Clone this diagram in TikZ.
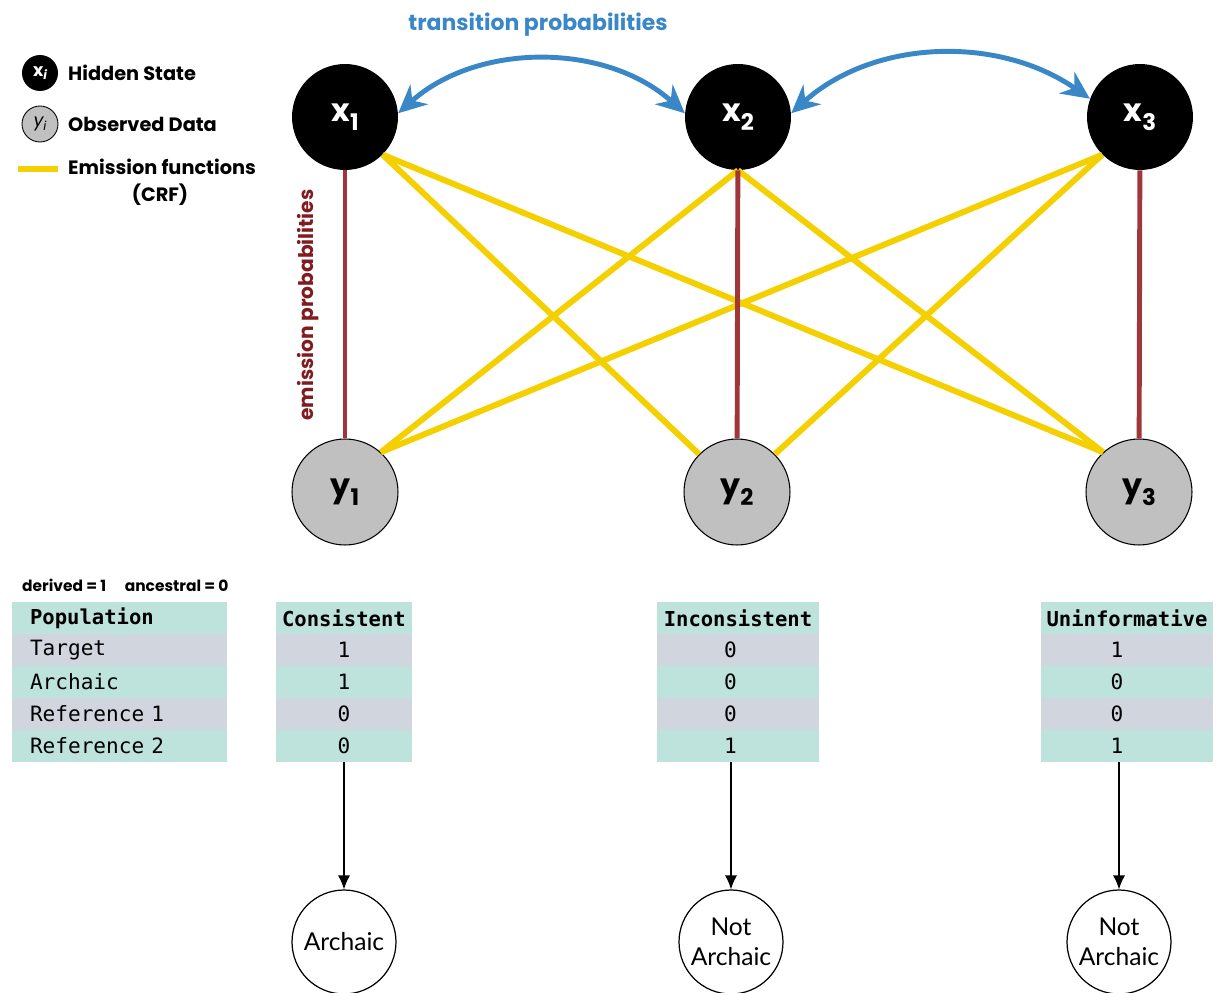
\documentclass[tikz,border=0pt]{standalone}
\usepackage{fontspec}
\setmainfont{Poppins}
\setmonofont{DejaVu Sans Mono}
\newfontfamily\circfont{Lato}
\usetikzlibrary{arrows.meta}
\definecolor{transblue}{RGB}{58,135,200}
\definecolor{emisred}{RGB}{160,54,58}
\definecolor{emistext}{RGB}{128,28,32}
\definecolor{crfyellow}{RGB}{245,208,0}
\definecolor{obsgray}{RGB}{192,192,192}
\definecolor{rowteal}{RGB}{190,226,220}
\definecolor{rowgray}{RGB}{208,213,222}
\newcommand{\lowsub}[1]{\raisebox{-0.3em}{\fontsize{13}{13}\selectfont #1}}
\tikzset{
  hidden/.style={circle, fill=black, text=white, minimum size=2.12cm, inner sep=0pt,
    font=\fontsize{18}{20}\selectfont\bfseries},
  observed/.style={circle, draw=black, line width=0.6pt, fill=obsgray, minimum size=2.12cm,
    inner sep=0pt, font=\fontsize{18}{20}\selectfont\bfseries},
  legtext/.style={font=\fontsize{11}{13}\selectfont\bfseries},
  emission/.style={emisred, line width=2.8pt},
  crf/.style={crfyellow, line width=3.4pt},
  trans/.style={transblue, line width=2.8pt, {Stealth[length=16pt,width=15pt]}-{Stealth[length=16pt,width=15pt]}},
  cell/.style={minimum height=0.64cm, inner sep=0pt, font=\ttfamily\fontsize{12}{14}\selectfont},
  headcell/.style={cell, fill=rowteal, font=\ttfamily\bfseries\fontsize{11.7}{14}\selectfont},
  result/.style={circle, draw=black, line width=0.7pt, minimum size=2.08cm, inner sep=0pt,
    align=center, font=\circfont\fontsize{14}{17}\selectfont},
  decide/.style={-{Latex[length=8pt,width=7pt]}, line width=0.9pt},
}
\begin{document}
\begin{tikzpicture}[x=0.02cm, y=0.02cm]
\useasboundingbox (0,0) rectangle (1218,992);
% legend
\node[circle, fill=black, text=white, minimum size=0.72cm, inner sep=0pt, font=\fontsize{10}{10}\selectfont\bfseries] (leghid) at (40,919) {x\raisebox{-0.2em}{\fontsize{7}{7}\selectfont\itshape i}};
\node[legtext, anchor=west] (leghidtxt) at (62,919) {Hidden State};
\node[circle, draw=black, line width=0.5pt, fill=obsgray, minimum size=0.72cm, inner sep=0pt, font=\fontsize{10}{10}\selectfont\itshape] (legobs) at (40,868) {y\raisebox{-0.2em}{\fontsize{7}{7}\selectfont i}};
\node[legtext, anchor=west] (legobstxt) at (62,868) {Observed Data};
\coordinate (legcrfa) at (18,823);
\coordinate (legcrfb) at (58,823);
\draw[crf] (legcrfa) -- (legcrfb);
\node[legtext, anchor=west] (legcrftxt) at (62,825) {Emission functions};
\node[legtext] (legcrf2) at (160,797) {(CRF)};
% hidden and observed states
\node[hidden] (x1) at (345,875) {x\lowsub{1}};
\node[hidden] (x2) at (738,875) {x\lowsub{2}};
\node[hidden] (x3) at (1140,875) {x\lowsub{3}};
\node[observed] (y1) at (345,500) {y\lowsub{1}};
\node[observed] (y2) at (737,500) {y\lowsub{2}};
\node[observed] (y3) at (1139,500) {y\lowsub{3}};
% emission functions (CRF)
\draw[crf] (x1.-45) -- (y2.135);
\draw[crf] (x1.-45) -- (y3.132);
\draw[crf] (x2.south) -- (y1.48);
\draw[crf] (x2.south) -- (y3.132);
\draw[crf] (x3.-135) -- (y1.48);
\draw[crf] (x3.-135) -- (y2.45);
% emission probabilities
\draw[emission] (x1) -- (y1);
\draw[emission] (x2) -- (y2);
\draw[emission] (x3) -- (y3);
\node[rotate=90, text=emistext, font=\fontsize{11.5}{13}\selectfont\bfseries] (emislab) at (308,687) {emission probabilities};
% transition probabilities
\draw[trans] (x1.4) to[out=42, in=138, looseness=0.95] (x2.176);
\draw[trans] (x2.4) to[out=42, in=145, looseness=0.95] (x3.160);
\node[text=transblue, font=\fontsize{12.5}{14}\selectfont\bfseries] (translab) at (538,967) {transition probabilities};
% tables
\node[anchor=west, font=\fontsize{8.8}{10}\selectfont\bfseries] (codes) at (16,407) {derived = 1\hspace{1.2em}ancestral = 0};
\node[headcell, text width=3.58cm, inner xsep=0.36cm, align=left] (pop0) at (119.5,374) {Population};
\foreach \lab/\col [count=\i] in {Target/rowgray, Archaic/rowteal, Reference 1/rowgray, Reference 2/rowteal}
  \node[cell, fill=\col, text width=3.58cm, inner xsep=0.36cm, align=left] (pop\i) at (119.5,374-32*\i) {\lab};
\node[headcell, minimum width=2.72cm] (cons0) at (344,374) {Consistent};
\foreach \val/\col [count=\i] in {1/rowgray, 1/rowteal, 0/rowgray, 0/rowteal}
  \node[cell, fill=\col, minimum width=2.72cm] (cons\i) at (344,374-32*\i) {\val};
\node[headcell, minimum width=3.24cm] (inc0) at (738,374) {Inconsistent};
\foreach \val/\col [count=\i] in {0/rowgray, 0/rowteal, 0/rowgray, 1/rowteal}
  \node[cell, fill=\col, minimum width=3.24cm] (inc\i) at (738,374-32*\i) {\hspace{-0.3cm}\val};
\node[headcell, minimum width=3.44cm] (uninf0) at (1127,374) {Uninformative};
\foreach \val/\col [count=\i] in {1/rowgray, 0/rowteal, 0/rowgray, 1/rowteal}
  \node[cell, fill=\col, minimum width=3.44cm] (uninf\i) at (1127,374-32*\i) {\hspace{-0.4cm}\val};
% outcomes
\node[result] (arch) at (344,50) {Archaic};
\node[result] (notarch1) at (731,50) {Not\\Archaic};
\node[result] (notarch2) at (1119,50) {Not\\Archaic};
\draw[decide] (arch.north |- cons4.south) -- (arch.north);
\draw[decide] (notarch1.north |- inc4.south) -- (notarch1.north);
\draw[decide] (notarch2.north |- uninf4.south) -- (notarch2.north);
\end{tikzpicture}
\end{document}
